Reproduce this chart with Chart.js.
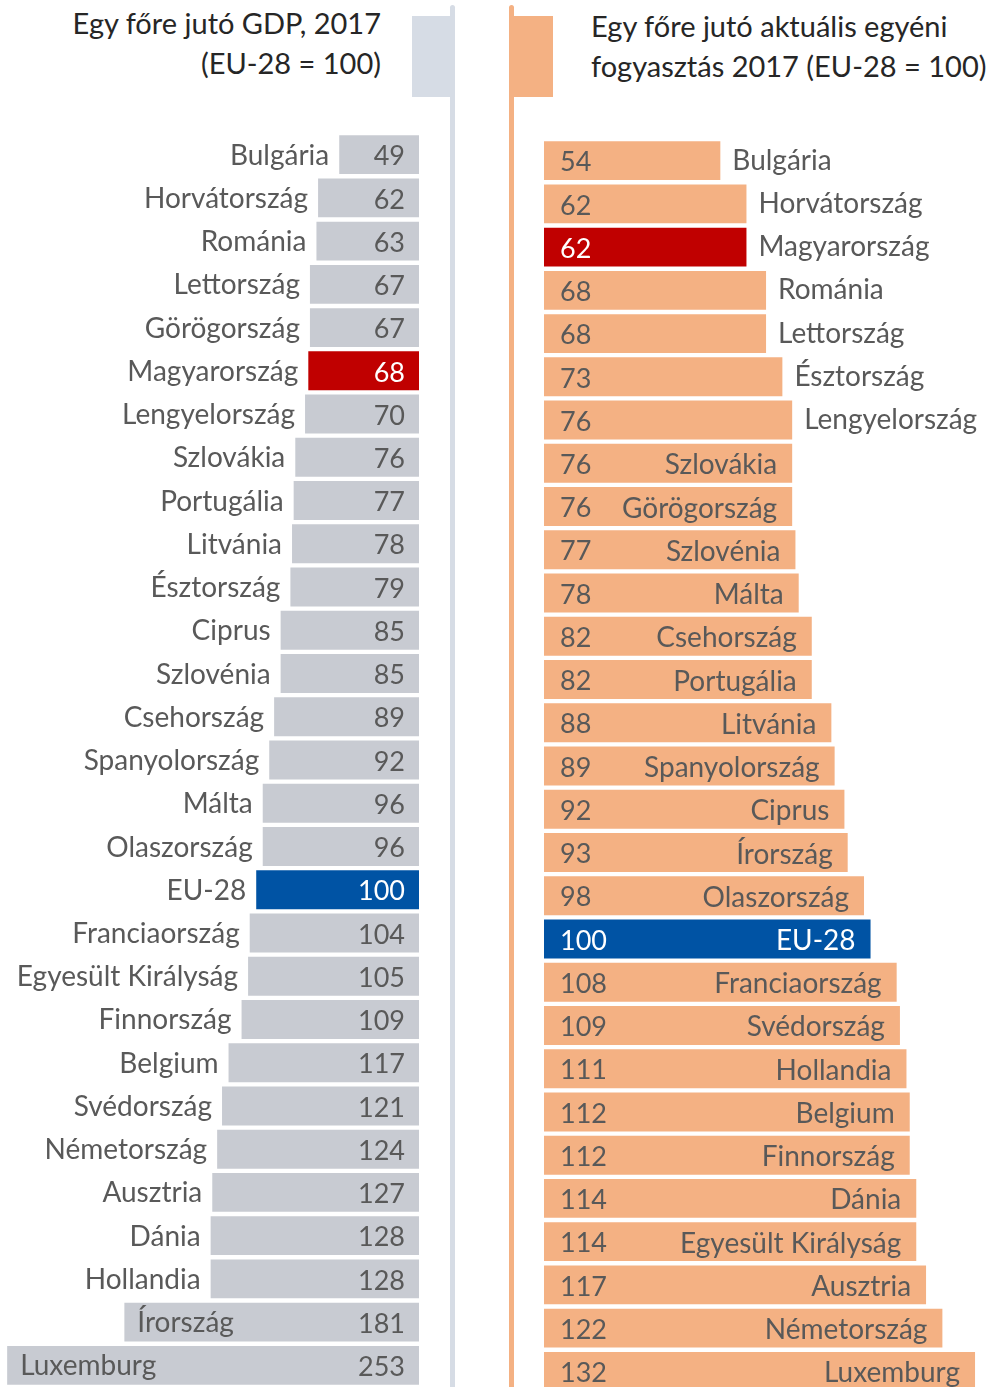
<!DOCTYPE html>
<html><head><meta charset="utf-8">
<script src="https://cdn.jsdelivr.net/npm/chart.js@4/dist/chart.umd.min.js"></script>
<style>
html,body{margin:0;padding:0;background:#fff;overflow:hidden;width:993px;height:1387px;}
#wrap{position:relative;width:993px;height:1387px;overflow:hidden;font-family:Lato,sans-serif;}
.abs{position:absolute;}
canvas{position:absolute;}
</style></head><body>
<div id="wrap">
  <div class="abs" style="right:612px;top:3px;text-align:right;font-size:29px;line-height:40px;color:#262626;white-space:nowrap;">Egy főre jutó GDP, 2017<br>(EU-28 = 100)</div>
  <div class="abs" style="left:591px;top:6px;text-align:left;font-size:29px;line-height:40px;color:#262626;white-space:nowrap;">Egy főre jutó aktuális egyéni<br>fogyasztás 2017 (EU-28 = 100)</div>
  <div class="abs" style="left:412px;top:16px;width:40px;height:81px;background:#d6dce5;"></div>
  <div class="abs" style="left:450px;top:5px;width:5px;height:1390px;background:#d6dce5;border-radius:3px;"></div>
  <div class="abs" style="left:512px;top:16px;width:41px;height:81px;background:#f4b183;"></div>
  <div class="abs" style="left:509px;top:5px;width:5px;height:1390px;background:#f4b183;border-radius:3px;"></div>
  <canvas id="c1" width="419" height="1254" style="left:0;top:133px;"></canvas>
  <canvas id="c2" width="449" height="1254" style="left:544px;top:139px;"></canvas>
</div>
<script>
// ---- Data ----
const gdpCountries = ["Bulgária","Horvátország","Románia","Lettország","Görögország","Magyarország","Lengyelország","Szlovákia","Portugália","Litvánia","Észtország","Ciprus","Szlovénia","Csehország","Spanyolország","Málta","Olaszország","EU-28","Franciaország","Egyesült Királyság","Finnország","Belgium","Svédország","Németország","Ausztria","Dánia","Hollandia","Írország","Luxemburg"];
const gdpValues = [49,62,63,67,67,68,70,76,77,78,79,85,85,89,92,96,96,100,104,105,109,117,121,124,127,128,128,181,253];

const aicCountries = ["Bulgária","Horvátország","Magyarország","Románia","Lettország","Észtország","Lengyelország","Szlovákia","Görögország","Szlovénia","Málta","Csehország","Portugália","Litvánia","Spanyolország","Ciprus","Írország","Olaszország","EU-28","Franciaország","Svédország","Hollandia","Belgium","Finnország","Dánia","Egyesült Királyság","Ausztria","Németország","Luxemburg"];
const aicValues = [54,62,62,68,68,73,76,76,76,77,78,82,82,88,89,92,93,98,100,108,109,111,112,112,114,114,117,122,132];

const HU = "Magyarország", EU = "EU-28";
const RED = "#c00000", BLUE = "#0053a4", GRAY = "#c8cbd2", ORANGE = "#f4b183";
const TXT = "#595959";
const VFONT = "27px Lato";
const NFONT = "28px Lato";

function colorsFor(names, base){ return names.map(n => n===HU?RED:(n===EU?BLUE:base)); }

const leftLabels = {
  id:'leftLabels',
  afterDatasetsDraw(chart){
    const ctx = chart.ctx, meta = chart.getDatasetMeta(0);
    ctx.save(); ctx.textBaseline = 'middle';
    meta.data.forEach((bar,i)=>{
      const name = gdpCountries[i], v = gdpValues[i];
      const special = name===HU || name===EU;
      const left = Math.min(bar.x, bar.base), right = Math.max(bar.x, bar.base);
      ctx.font = VFONT;
      ctx.fillStyle = special ? '#ffffff' : TXT;
      ctx.textAlign = 'right';
      ctx.fillText(String(v), right-14, bar.y+2);
      ctx.font = NFONT;
      ctx.fillStyle = TXT;
      if (i >= gdpCountries.length-2) { ctx.textAlign='left'; ctx.fillText(name, left+13, bar.y+1); }
      else { ctx.textAlign='right'; ctx.fillText(name, left-10, bar.y+1); }
    });
    ctx.restore();
  }
};
const rightLabels = {
  id:'rightLabels',
  afterDatasetsDraw(chart){
    const ctx = chart.ctx, meta = chart.getDatasetMeta(0);
    ctx.save(); ctx.textBaseline = 'middle';
    meta.data.forEach((bar,i)=>{
      const name = aicCountries[i], v = aicValues[i];
      const special = name===HU || name===EU;
      const left = Math.min(bar.x, bar.base), right = Math.max(bar.x, bar.base);
      ctx.font = VFONT;
      ctx.fillStyle = special ? '#ffffff' : TXT;
      ctx.textAlign = 'left';
      ctx.fillText(String(v), left+16, bar.y+2);
      ctx.font = NFONT;
      if (i < 7) { ctx.fillStyle = TXT; ctx.textAlign='left'; ctx.fillText(name, right+12, bar.y); }
      else { ctx.fillStyle = special ? '#ffffff' : TXT; ctx.textAlign='right'; ctx.fillText(name, right-15, bar.y+2); }
    });
    ctx.restore();
  }
};

function makeChart(id, labels, values, base, reverse, max, plugin){
  return new Chart(document.getElementById(id), {
    type:'bar',
    data:{ labels: labels, datasets:[{ data: values, backgroundColor: colorsFor(labels, base), borderWidth:0, barPercentage:0.9, categoryPercentage:1 }] },
    options:{
      indexAxis:'y', responsive:false, animation:false, devicePixelRatio:1,
      layout:{ padding:0 },
      plugins:{ legend:{display:false}, tooltip:{enabled:false} },
      scales:{
        x:{ display:false, reverse: reverse, min:0, max:max },
        y:{ display:false }
      }
    },
    plugins:[plugin]
  });
}
makeChart('c1', gdpCountries, gdpValues, GRAY, true, 257.4, leftLabels);
makeChart('c2', aicCountries, aicValues, ORANGE, false, 137.5, rightLabels);
</script>
</body></html>
